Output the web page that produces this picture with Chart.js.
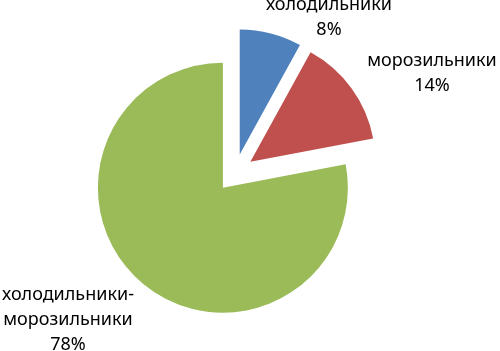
<!DOCTYPE html>
<html>
<head>
<meta charset="utf-8">
<script src="https://cdn.jsdelivr.net/npm/chart.js@4"></script>
<style>
  html, body { margin: 0; padding: 0; background: #fff; }
  #wrap { width: 500px; height: 351px; }
</style>
</head>
<body>
<div id="wrap"><canvas id="c" width="500" height="351"></canvas></div>
<script>
const categories = ['холодильники', 'морозильники', 'холодильники-морозильники'];
const labelLines = [['холодильники'], ['морозильники'], ['холодильники-', 'морозильники']];
const values = [8, 14, 78];
const colors = ['#4F81BD', '#C0504D', '#9BBB59'];

const explodePlugin = {
  id: 'explode',
  afterDatasetsUpdate(chart, args, opts) {
    const meta = chart.getDatasetMeta(0);
    meta.data.forEach(arc => {
      const mid = (arc.startAngle + arc.endAngle) / 2;
      arc.x += Math.cos(mid) * opts.distance;
      arc.y += Math.sin(mid) * opts.distance;
    });
  }
};

const labelPlugin = {
  id: 'sliceLabels',
  afterDraw(chart, args, opts) {
    const ctx = chart.ctx;
    const ca = chart.chartArea;
    const cx = (ca.left + ca.right) / 2;
    const cy = (ca.top + ca.bottom) / 2;
    const ds = chart.data.datasets[0];
    const total = ds.data.reduce((a, b) => a + b, 0);
    ctx.save();
    ctx.font = opts.font;
    ctx.fillStyle = opts.color;
    ctx.textAlign = 'center';
    ctx.textBaseline = 'alphabetic';
    ds.data.forEach((v, i) => {
      const lines = labelLines[i].concat([Math.round(v / total * 100) + '%']);
      const a = opts.anchors[i];
      lines.forEach((t, j) => {
        ctx.fillText(t, cx + a[0], cy + a[1] + j * opts.lineHeight);
      });
    });
    ctx.restore();
  }
};

new Chart(document.getElementById('c'), {
  type: 'pie',
  data: {
    labels: categories,
    datasets: [{
      data: values,
      backgroundColor: colors,
      borderWidth: 0
    }]
  },
  options: {
    responsive: false,
    animation: false,
    radius: 125,
    layout: { padding: { left: 0, right: 30, top: 0, bottom: 5 } },
    plugins: {
      legend: { display: false },
      tooltip: { enabled: false },
      explode: { distance: 19 },
      sliceLabels: {
        font: '18px "Noto Sans"',
        color: '#000',
        lineHeight: 25,
        anchors: [[94, -163.5], [197, -107], [-167, 127]]
      }
    }
  },
  plugins: [explodePlugin, labelPlugin]
});
</script>
</body>
</html>
